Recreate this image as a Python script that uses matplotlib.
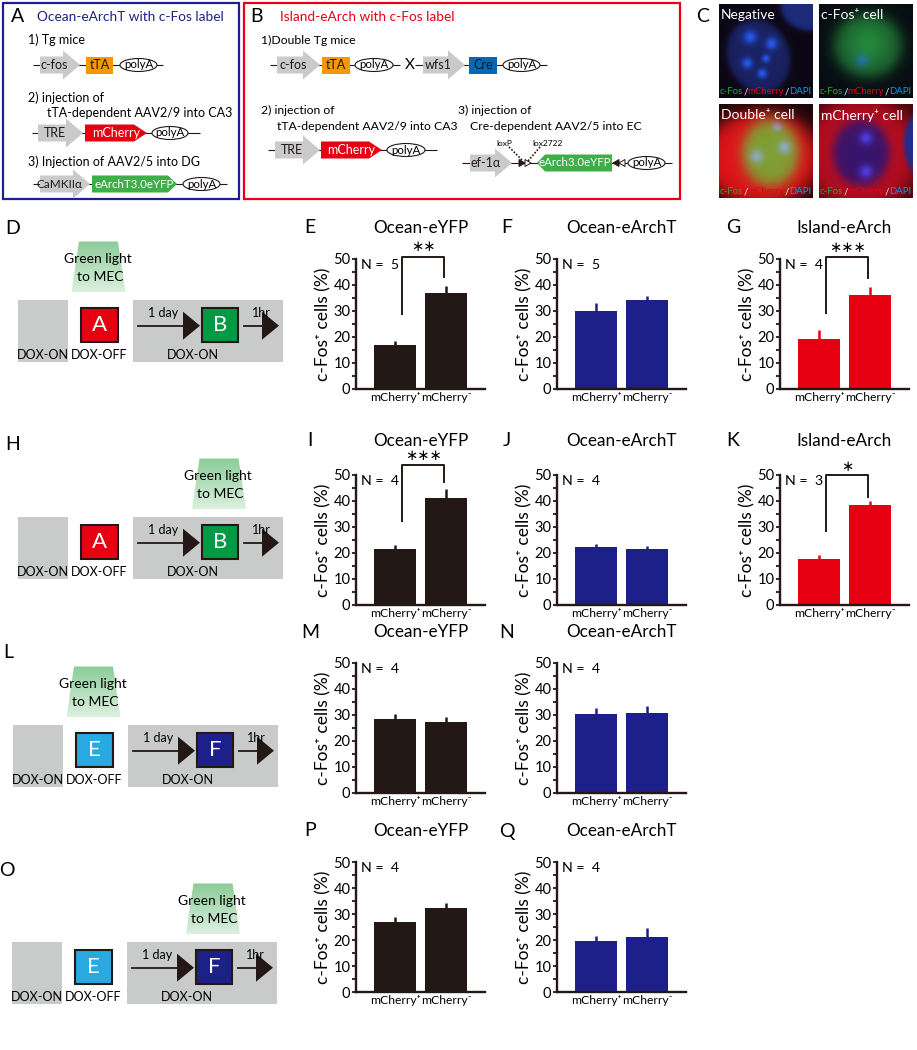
import numpy as np
import matplotlib
matplotlib.use("Agg")
import matplotlib.pyplot as plt
from matplotlib.patches import Polygon, Rectangle, Ellipse

plt.rcParams['font.family'] = ['Lato', 'DejaVu Sans']

# ---------------- data ----------------
groups = ["mCherry\u207a", "mCherry\u207b"]
ylabel = "c-Fos\u207a cells (%)"

means_E, err_E = [17.0, 37.1], [1.3, 2.6]
means_F, err_F = [30.0, 34.3], [2.9, 1.5]
means_G, err_G = [19.3, 36.2], [3.3, 3.0]
means_I, err_I = [21.6, 41.3], [1.3, 3.2]
means_J, err_J = [22.5, 21.5], [1.1, 1.1]
means_K, err_K = [17.7, 38.5], [1.5, 1.5]
means_M, err_M = [28.3, 27.2], [1.9, 2.1]
means_N, err_N = [30.2, 30.6], [2.6, 2.9]
means_P, err_P = [27.1, 32.5], [1.8, 1.8]
means_Q, err_Q = [19.6, 21.2], [1.9, 3.3]

n_mice = {"E": 5, "F": 5, "G": 4, "I": 4, "J": 4, "K": 3, "M": 4, "N": 4, "P": 4, "Q": 4}
# significance: stars, (left leg bottom, top, right leg bottom), star height
sig = {
    "E": ("\u2217\u2217", (29.0, 50.9, 42.9), 54.8),
    "G": ("\u2217\u2217\u2217", (29.3, 50.9, 42.8), 54.6),
    "I": ("\u2217\u2217\u2217", (32.3, 53.9, 47.5), 57.5),
    "K": ("\u2217", (28.5, 50.0, 41.7), 53.4),
}

BLACK = "#231815"
NAVY = "#1d2088"
RED = "#e60012"
ORANGE = "#f39800"
CRE_BLUE = "#0068b7"
GENE_GREEN = "#3eae49"
GRAY = "#c9caca"
SKY = "#29a9e1"
DARKGREEN = "#009944"

W, H = 917, 1050
fig = plt.figure(figsize=(W / 100, H / 100), dpi=100)
bg = fig.add_axes([0, 0, 1, 1])
bg.axis("off")


def txt(x, y, s, fs=8.5, ha="left", va="center", **kw):
    return bg.text(x, y, s, fontsize=fs, ha=ha, va=va, **kw)


def line(x0, x1, y, lw=0.8):
    bg.plot([x0, x1], [y, y], color=BLACK, lw=lw, zorder=1, solid_capstyle="butt")


def promoter(x0, x1, yc, label, fs=9):
    hb, hh, hl = 8.5, 14.5, 17
    xh = x1 - hl
    pts = [(x0, yc - hb), (xh, yc - hb), (xh, yc - hh), (x1, yc),
           (xh, yc + hh), (xh, yc + hb), (x0, yc + hb)]
    bg.add_patch(Polygon(pts, closed=True, facecolor=GRAY, edgecolor="none", zorder=2))
    txt((x0 + xh) / 2 + 3, yc, label, fs=fs, ha="center", color=BLACK, zorder=3)


def gene(x0, x1, yc, label, color, point=None, pl=10, fs=9, tc="white"):
    hb = 8.5
    if point == "right":
        pts = [(x0, yc - hb), (x1 - pl, yc - hb), (x1, yc), (x1 - pl, yc + hb), (x0, yc + hb)]
    elif point == "left":
        pts = [(x0 + pl, yc - hb), (x1, yc - hb), (x1, yc + hb), (x0 + pl, yc + hb), (x0, yc)]
    else:
        pts = [(x0, yc - hb), (x1, yc - hb), (x1, yc + hb), (x0, yc + hb)]
    bg.add_patch(Polygon(pts, closed=True, facecolor=color, edgecolor="none", zorder=2))
    txt((x0 + x1) / 2, yc, label, fs=fs, ha="center", color=tc, zorder=3)


def polya(x0, x1, yc):
    bg.add_patch(Ellipse(((x0 + x1) / 2, yc), x1 - x0, 13, facecolor="white",
                         edgecolor=BLACK, lw=0.8, zorder=2))
    txt((x0 + x1) / 2, yc, "polyA", fs=8.3, ha="center", zorder=3)


def tri(xt, yc, direction, filled):
    d = 1 if direction == "right" else -1
    pts = [(xt, yc), (xt - d * 6, yc - 3.5), (xt - d * 6, yc + 3.5)]
    bg.add_patch(Polygon(pts, closed=True, facecolor=BLACK if filled else "white",
                         edgecolor=BLACK, lw=0.7, zorder=3))


# ---------------- panel A ----------------
bg.add_patch(Rectangle((3, 3), 236, 196, fill=False, edgecolor=NAVY, lw=1.6))
txt(18, 17, "A", fs=14, ha="center")
txt(37, 17, "Ocean-eArchT with c-Fos label", fs=9.8, color=NAVY)
txt(28, 40, "1) Tg mice", fs=9)
line(33, 163, 65)
promoter(40, 80, 65, "c-fos")
gene(86, 113, 65, "tTA", ORANGE, tc=BLACK)
polya(120, 157, 65)
txt(28, 98, "2) injection of", fs=9)
txt(47, 113, "tTA-dependent AAV2/9 into CA3", fs=9)
line(32, 200, 133)
promoter(38, 83, 133, "TRE")
gene(85, 147, 133, "mCherry", RED, point="right", pl=13)
polya(152, 188, 133)
txt(28, 162, "3) Injection of AAV2/5 into DG", fs=9)
line(33, 227, 184)
promoter(40, 90, 184, "CaMKII\u03b1", fs=8.5)
gene(92, 177, 184, "eArchT3.0eYFP", GENE_GREEN, point="right", pl=9, fs=8.3)
polya(183, 220, 184)

# ---------------- panel B ----------------
bg.add_patch(Rectangle((244, 3), 436, 196, fill=False, edgecolor=RED, lw=1.6))
txt(257, 17, "B", fs=14, ha="center")
txt(280, 17, "Island-eArch with c-Fos label", fs=9.8, color=RED)
txt(261, 40, "1)Double Tg mice", fs=8.8)
line(270, 400, 65)
promoter(277, 320, 65, "c-fos")
gene(322, 350, 65, "tTA", ORANGE, tc=BLACK)
polya(355, 393, 65)
txt(410, 65, "X", fs=11, ha="center")
line(415, 547, 65)
promoter(423, 465, 65, "wfs1")
gene(469, 497, 65, "Cre", CRE_BLUE, tc=BLACK)
polya(503, 540, 65)
txt(261, 110, "2) injection of", fs=8.8)
txt(277, 126, "tTA-dependent AAV2/9 into CA3", fs=8.8)
line(268, 437, 150)
promoter(275, 320, 150, "TRE")
gene(321, 382, 150, "mCherry", RED, point="right", pl=13)
polya(387, 425, 150)
txt(458, 110, "3) injection of", fs=8.8)
txt(470, 126, "Cre-dependent AAV2/5 into EC", fs=8.8)
line(462, 672, 163)
promoter(470, 512, 163, "ef-1\u03b1")
tri(525, 163, "right", True)
tri(531, 163, "right", False)
gene(537, 612, 163, "eArch3.0eYFP", GENE_GREEN, point="left", pl=8, fs=8.3)
tri(613, 163, "left", True)
tri(619, 163, "left", False)
polya(628, 665, 163)
txt(504, 143, "loxP", fs=6, ha="center")
txt(548, 143, "lox2722", fs=6, ha="center")
bg.plot([509, 523], [147, 161], color=BLACK, lw=1.2, ls=(0, (1, 1)))
bg.plot([540, 528], [147, 161], color=BLACK, lw=1.2, ls=(0, (1, 1)))

# ---------------- panel C (confocal images) ----------------
yy, xx = np.mgrid[0:1:96j, 0:1:96j]


def blob(cx, cy, rx, ry, soft=0.08, ang=0.0):
    c, s = np.cos(ang), np.sin(ang)
    dx, dy = xx - cx, yy - cy
    u, v = c * dx + s * dy, -s * dx + c * dy
    r = np.sqrt((u / rx) ** 2 + (v / ry) ** 2)
    return (1 / (1 + np.exp((r - 1) / soft)))[..., None]


def gauss(cx, cy, s):
    return np.exp(-((xx - cx) ** 2 + (yy - cy) ** 2) / (2 * s ** 2))[..., None]


def col(*rgb):
    return np.array(rgb)[None, None, :]


def cell_image(kind):
    if kind == "neg":
        img = np.ones((96, 96, 3)) * col(0.05, 0.03, 0.08)
        img += blob(0.42, 0.55, 0.33, 0.40, soft=0.05, ang=-0.35) * col(0.05, 0.10, 0.30)
        for cx, cy, s in [(0.33, 0.35, 0.05), (0.56, 0.42, 0.045), (0.30, 0.63, 0.04),
                          (0.46, 0.74, 0.035), (0.50, 0.58, 0.03)]:
            img += gauss(cx, cy, s) * col(0.05, 0.22, 0.55)
        img += blob(0.98, 0.02, 0.32, 0.26, soft=0.05) * col(0.06, 0.14, 0.40)
    elif kind == "fos":
        img = np.ones((96, 96, 3)) * col(0.03, 0.05, 0.07)
        img += blob(0.52, 0.44, 0.36, 0.34, soft=0.12) * col(0.08, 0.34, 0.12)
        img += gauss(0.52, 0.42, 0.16) * col(0.03, 0.14, 0.04)
        img += gauss(0.46, 0.60, 0.05) * col(0.0, 0.0, 0.40)
    elif kind == "double":
        img = np.ones((96, 96, 3)) * col(0.10, 0.02, 0.04)
        img += blob(0.45, 0.58, 0.62, 0.50, soft=0.1) * col(0.78, 0.06, 0.06)
        m = blob(0.55, 0.52, 0.30, 0.35, soft=0.12)
        img = img * (1 - m) + m * col(0.50, 0.62, 0.20)
        for cx, cy, s in [(0.40, 0.56, 0.05), (0.70, 0.46, 0.05), (0.62, 0.24, 0.035)]:
            img += gauss(cx, cy, s) * col(0.05, 0.05, 0.55)
    else:
        img = np.ones((96, 96, 3)) * col(0.22, 0.02, 0.05)
        img += blob(0.45, 0.52, 0.62, 0.60, soft=0.1) * col(0.50, 0.03, 0.07)
        m = blob(0.45, 0.52, 0.30, 0.35, soft=0.1)
        img = img * (1 - m) + m * col(0.22, 0.08, 0.42)
        for cx, cy, s in [(0.50, 0.36, 0.05), (0.50, 0.72, 0.05)]:
            img += gauss(cx, cy, s) * col(0.08, 0.15, 0.45)
        e = blob(1.05, 0.42, 0.14, 0.30)
        img = img * (1 - e) + e * col(0.12, 0.18, 0.55)
    return np.clip(img, 0, 1)


txt(703, 17, "C", fs=14, ha="center")
c_tiles = [("neg", "Negative", 719, 4), ("fos", "c-Fos\u207a cell", 819, 4),
           ("double", "Double\u207a cell", 719, 104), ("mch", "mCherry\u207a cell", 819, 104)]
for kind, label, x0, y0 in c_tiles:
    bg.imshow(cell_image(kind), extent=(x0, x0 + 94, y0 + 94, y0), origin="upper",
              interpolation="bilinear", zorder=1)
    txt(x0 + 2, y0 + 11, label, fs=10, color="white", zorder=4)
    t = txt(x0 + 1, y0 + 88, "c-Fos", fs=6.9, color="#22ac38", zorder=4)
    for piece, pc in [("/", "white"), ("mCherry", RED), ("/", "white"), ("DAPI", "#00a0e9")]:
        t = bg.annotate(piece, xy=(1, 0), xycoords=t, va="bottom", ha="left",
                        fontsize=6.9, color=pc, zorder=4)


# ---------------- protocol schematics ----------------
def light(xc, ytop, ybot):
    pts = [(xc - 19.5, ytop), (xc + 19.5, ytop), (xc + 27, ybot), (xc - 27, ybot)]
    poly = Polygon(pts, closed=True, facecolor="none", edgecolor="none", transform=bg.transData)
    bg.add_patch(poly)
    f = np.linspace(0, 1, 60)[:, None, None]
    grad = (1 - f) * col(0.55, 0.80, 0.60) + f * col(0.86, 0.94, 0.87)
    grad = np.repeat(grad, 2, axis=1)
    im = bg.imshow(grad, extent=(xc - 27, xc + 27, ybot, ytop), origin="upper",
                   aspect="auto", interpolation="bilinear", zorder=1)
    im.set_clip_path(poly)
    txt(xc - 1, ytop + 17.5, "Green light", fs=10, ha="center", zorder=3)
    txt(xc + 1.5, ytop + 35.5, "to MEC", fs=10, ha="center", zorder=3)


def arrow(x0, x1, y):
    bg.plot([x0, x1 - 15], [y, y], color=BLACK, lw=1.3, zorder=3)
    bg.add_patch(Polygon([(x1, y), (x1 - 17, y - 14), (x1 - 17, y + 14)], closed=True,
                         facecolor=BLACK, edgecolor="none", zorder=3))


def protocol(letter, x0, y0, ctx1, ctx2, c1, c2, light_on):
    txt(x0 - 5, y0 - 72, letter, fs=14, ha="center")
    bg.add_patch(Rectangle((x0, y0), 50, 62, facecolor=GRAY, edgecolor="none", zorder=1))
    bg.add_patch(Rectangle((x0 + 115, y0), 150, 62, facecolor=GRAY, edgecolor="none", zorder=1))
    bg.add_patch(Rectangle((x0 + 63, y0 + 8), 37, 34, facecolor=c1, edgecolor=BLACK, lw=1.5, zorder=2))
    bg.add_patch(Rectangle((x0 + 184, y0 + 8), 36, 34, facecolor=c2, edgecolor=BLACK, lw=1.5, zorder=2))
    txt(x0 + 81.5, y0 + 25, ctx1, fs=16, ha="center", color="white", zorder=3)
    txt(x0 + 202, y0 + 25, ctx2, fs=16, ha="center", color="white", zorder=3)
    arrow(x0 + 120, x0 + 182, y0 + 25.7)
    arrow(x0 + 226, x0 + 261, y0 + 25.7)
    txt(x0 + 145, y0 + 13, "1 day", fs=9, ha="center")
    txt(x0 + 243, y0 + 13, "1hr", fs=9, ha="center")
    txt(x0 + 25, y0 + 55, "DOX-ON", fs=9, ha="center")
    txt(x0 + 81, y0 + 55, "DOX-OFF", fs=9, ha="center")
    txt(x0 + 175, y0 + 55, "DOX-ON", fs=9, ha="center")
    xc = x0 + 80.5 if light_on == 0 else x0 + 201
    light(xc, y0 - 58.5, y0 - 8)


protocol("D", 18, 300, "A", "B", RED, DARKGREEN, 0)
protocol("H", 18, 517, "A", "B", RED, DARKGREEN, 1)
protocol("L", 13, 725, "E", "F", SKY, NAVY, 0)
protocol("O", 12, 942, "E", "F", SKY, NAVY, 1)


# ---------------- bar charts ----------------
def bar_panel(letter, title, vals, errs, color, left, letter_x, top, title_gap=31,
              width=129, height=130):
    ax = fig.add_axes([left / W, 1 - (top + height) / H, width / W, height / H])
    x = np.arange(len(groups))
    vals, errs = np.array(vals), np.array(errs)
    ax.bar(x, vals, width=0.843, color=color, zorder=2)
    ax.vlines(x, vals, vals + errs, color=color, lw=1.8, zorder=2)
    ax.set_xlim(-0.765, 1.765)
    ax.set_ylim(0, 50)
    for s in ["top", "right"]:
        ax.spines[s].set_visible(False)
    for s in ["left", "bottom"]:
        ax.spines[s].set_linewidth(1.7)
        ax.spines[s].set_color(BLACK)
    ax.set_yticks(np.arange(0, 51, 10))
    ax.set_yticks(np.arange(0, 51, 5), minor=True)
    ax.tick_params(axis="y", which="both", labelsize=10.5, width=1.3, length=3, pad=1, color=BLACK)
    ax.set_xticks(x, groups)
    ax.tick_params(axis="x", length=0, labelsize=8.7, pad=2)
    ax.set_ylabel(ylabel, fontsize=12.5, labelpad=1)
    ax.patch.set_alpha(0)
    ax.text(0.04, 0.955, f"N =  {n_mice[letter]}", transform=ax.transAxes, fontsize=10.2,
            ha="left", va="center")
    ax.text(0.5, 1 + title_gap / height, title, transform=ax.transAxes, fontsize=12.3,
            ha="center", va="center")
    ax.text((letter_x - left) / width, 1 + title_gap / height, letter, transform=ax.transAxes,
            fontsize=14, ha="center", va="center")
    if letter in sig:
        stars, (b0, bt, b1), sy = sig[letter]
        ax.plot([0.13, 0.13, 0.97, 0.97], [b0, bt, bt, b1], color=BLACK, lw=1.4,
                clip_on=False, zorder=3)
        ax.text(0.55, sy, stars, ha="center", va="center", fontsize=10.5,
                family="DejaVu Sans", clip_on=False)
    return ax


col_left = {0: 356, 1: 557, 2: 780}
col_letter = {0: 310, 1: 507, 2: 733}
row_top = [259, 475, 663, 862]
row_title_gap = [31, 34, 31, 31]

panels = [
    ("E", "Ocean-eYFP", means_E, err_E, BLACK, 0, 0),
    ("F", "Ocean-eArchT", means_F, err_F, NAVY, 0, 1),
    ("G", "Island-eArch", means_G, err_G, RED, 0, 2),
    ("I", "Ocean-eYFP", means_I, err_I, BLACK, 1, 0),
    ("J", "Ocean-eArchT", means_J, err_J, NAVY, 1, 1),
    ("K", "Island-eArch", means_K, err_K, RED, 1, 2),
    ("M", "Ocean-eYFP", means_M, err_M, BLACK, 2, 0),
    ("N", "Ocean-eArchT", means_N, err_N, NAVY, 2, 1),
    ("P", "Ocean-eYFP", means_P, err_P, BLACK, 3, 0),
    ("Q", "Ocean-eArchT", means_Q, err_Q, NAVY, 3, 1),
]
for letter, title, m, e, c, r, ci in panels:
    bar_panel(letter, title, m, e, c, col_left[ci], col_letter[ci], row_top[r],
              title_gap=row_title_gap[r])

bg.set_xlim(0, W)
bg.set_ylim(H, 0)
bg.set_aspect("auto")
fig.savefig("out.png", dpi=100)
